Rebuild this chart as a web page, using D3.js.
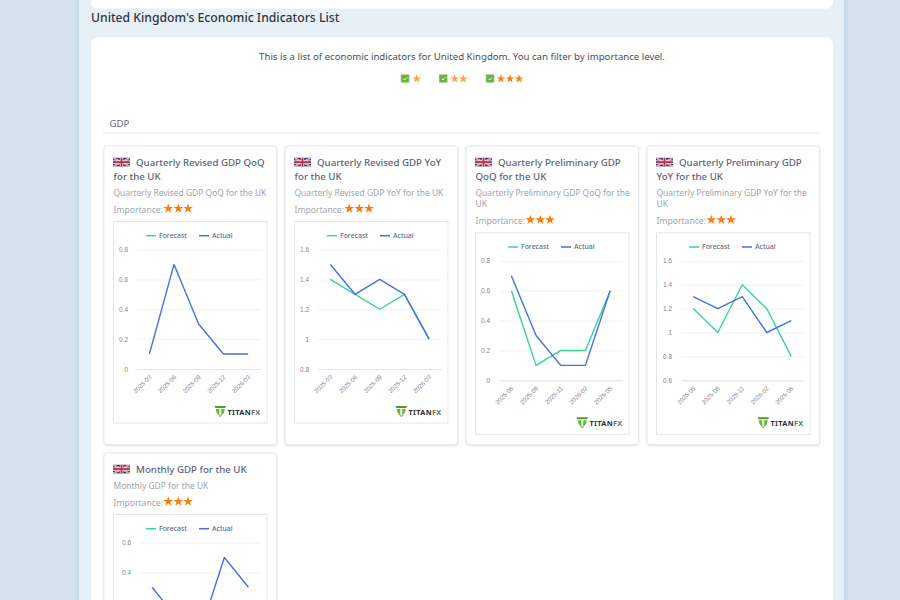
<!DOCTYPE html>
<html lang="en">
<head>
<meta charset="utf-8">
<title>United Kingdom's Economic Indicators List</title>
<script src="https://cdn.jsdelivr.net/npm/d3@7/dist/d3.min.js"></script>
<style>
  html, body { margin: 0; padding: 0; width: 900px; height: 600px; overflow: hidden; background: #d4e3ef; }
  svg { display: block; font-family: "Noto Sans", "Open Sans", sans-serif; }
</style>
</head>
<body>
<div id="page"></div>
<script>
// Release dates per indicator
const revisedQoqDates = ["2025-03", "2025-06", "2025-09", "2025-12", "2026-03"];
const revisedYoyDates = ["2025-03", "2025-06", "2025-09", "2025-12", "2026-03"];
const prelimQoqDates = ["2025-05", "2025-08", "2025-11", "2026-02", "2026-05"];
const prelimYoyDates = ["2025-05", "2025-08", "2025-11", "2026-02", "2026-05"];
const monthlyDates = ["2025-11", "2025-12", "2026-01", "2026-02", "2026-03"];

// Forecast and actual readings, in percent
const revisedQoqForecast = [];
const revisedQoqActual = [0.1, 0.7, 0.3, 0.1, 0.1];
const revisedYoyForecast = [1.4, 1.3, 1.2, 1.3, 1.0];
const revisedYoyActual = [1.5, 1.3, 1.4, 1.3, 1.0];
const prelimQoqForecast = [0.6, 0.1, 0.2, 0.2, 0.6];
const prelimQoqActual = [0.7, 0.3, 0.1, 0.1, 0.6];
const prelimYoyForecast = [1.2, 1.0, 1.4, 1.2, 0.8];
const prelimYoyActual = [1.3, 1.2, 1.3, 1.0, 1.1];
const monthlyForecast = [];
const monthlyActual = [0.3, 0.1, 0.0, 0.5, 0.3];

// Value-axis ranges
const revisedQoqRange = [0, 0.8];
const revisedYoyRange = [0.8, 1.6];
const prelimQoqRange = [0, 0.8];
const prelimYoyRange = [0.6, 1.6];
const monthlyRange = [-0.2, 0.6];

// Card wording
const revisedQoqTitle = ["Quarterly Revised GDP QoQ", "for the UK"];
const revisedYoyTitle = ["Quarterly Revised GDP YoY", "for the UK"];
const prelimQoqTitle = ["Quarterly Preliminary GDP", "QoQ for the UK"];
const prelimYoyTitle = ["Quarterly Preliminary GDP", "YoY for the UK"];
const monthlyTitle = ["Monthly GDP for the UK"];
const revisedQoqNote = ["Quarterly Revised GDP QoQ for the UK"];
const revisedYoyNote = ["Quarterly Revised GDP YoY for the UK"];
const prelimQoqNote = ["Quarterly Preliminary GDP QoQ for the", "UK"];
const prelimYoyNote = ["Quarterly Preliminary GDP YoY for the", "UK"];
const monthlyNote = ["Monthly GDP for the UK"];

const indicators = [
  { x: 103.5, y: 145.5, h: 299.5, axisGap: 24, title: revisedQoqTitle, note: revisedQoqNote, dates: revisedQoqDates, forecast: revisedQoqForecast, actual: revisedQoqActual, range: revisedQoqRange },
  { x: 284.5, y: 145.5, h: 299.5, axisGap: 24, title: revisedYoyTitle, note: revisedYoyNote, dates: revisedYoyDates, forecast: revisedYoyForecast, actual: revisedYoyActual, range: revisedYoyRange },
  { x: 465.5, y: 145.5, h: 299.5, axisGap: 24, title: prelimQoqTitle, note: prelimQoqNote, dates: prelimQoqDates, forecast: prelimQoqForecast, actual: prelimQoqActual, range: prelimQoqRange },
  { x: 646.5, y: 145.5, h: 299.5, axisGap: 25, title: prelimYoyTitle, note: prelimYoyNote, dates: prelimYoyDates, forecast: prelimYoyForecast, actual: prelimYoyActual, range: prelimYoyRange },
  { x: 103.5, y: 452.5, h: 299.5, axisGap: 27, title: monthlyTitle, note: monthlyNote, dates: monthlyDates, forecast: monthlyForecast, actual: monthlyActual, range: monthlyRange }
];

const FORECAST = "#35d6a0", ACTUAL = "#4470e8", STAR = "#ff7a0a", STAR_SOFT = "#ffa033";
const TEXT_DARK = "#2f3542", TITLE = "#5b6479", MUTED = "#a3a6ad";

const svg = d3.select("#page").append("svg").attr("width", 900).attr("height", 600);

const defs = svg.append("defs");
defs.append("filter").attr("id", "panel-shadow").attr("x", "-5%").attr("width", "110%")
  .append("feDropShadow").attr("dx", 0).attr("dy", 0).attr("stdDeviation", 3)
  .attr("flood-color", "#9fbcd8").attr("flood-opacity", 0.55);
defs.append("filter").attr("id", "card-shadow").attr("x", "-5%").attr("y", "-5%").attr("width", "110%").attr("height", "110%")
  .append("feDropShadow").attr("dx", 0).attr("dy", 1).attr("stdDeviation", 1)
  .attr("flood-color", "#8a94a6").attr("flood-opacity", 0.3);

// Page panels
svg.append("rect").attr("x", 79).attr("y", -10).attr("width", 765).attr("height", 630)
  .attr("fill", "#e8f0f7").attr("filter", "url(#panel-shadow)");
svg.append("rect").attr("x", 91).attr("y", -20).attr("width", 742).attr("height", 28.5).attr("rx", 6).attr("fill", "#fff");
svg.append("rect").attr("x", 91).attr("y", 37.5).attr("width", 742).attr("height", 600).attr("rx", 6).attr("fill", "#fff");

svg.append("text").attr("x", 91).attr("y", 21.5)
  .attr("font-size", 12.2).attr("font-weight", 500).attr("fill", TEXT_DARK)
  .text("United Kingdom's Economic Indicators List");
svg.append("text").attr("x", 462).attr("y", 60).attr("text-anchor", "middle")
  .attr("font-size", 9.64).attr("fill", "#4a4f5a")
  .text("This is a list of economic indicators for United Kingdom. You can filter by importance level.");

const starPath = r => d3.symbol().type(d3.symbolStar).size(r * r * 0.95)();

function stars(parent, centres, y, r, colour) {
  parent.selectAll(null).data(centres).join("path")
    .attr("d", starPath(r))
    .attr("transform", c => `translate(${c},${y})`)
    .attr("fill", colour);
}

// Importance filter
const filters = [
  { box: 400.8, centres: [416.7], colour: STAR_SOFT },
  { box: 439, centres: [454.7, 463.3], colour: STAR_SOFT },
  { box: 485.8, centres: [501, 510, 519], colour: STAR }
];
filters.forEach(f => {
  svg.append("rect").attr("x", f.box).attr("y", 74.3).attr("width", 8.5).attr("height", 8.5)
    .attr("rx", 1).attr("fill", "#6cb33f").attr("stroke", "#e3e8e0").attr("stroke-width", 0.6);
  svg.append("path")
    .attr("d", `M${f.box + 2.6},78.8 l1.2,1.2 l2.2,-2.4`)
    .attr("fill", "none").attr("stroke", "#fff").attr("stroke-width", 0.9);
  stars(svg, f.centres, 78.8, 5, f.colour);
});

// Section heading
svg.append("text").attr("x", 109.5).attr("y", 127).attr("font-size", 9.6).attr("fill", "#666b75").text("GDP");
svg.append("line").attr("x1", 103).attr("x2", 820).attr("y1", 133).attr("y2", 133)
  .attr("stroke", "#e6e8ec").attr("stroke-width", 1);

function unionFlag(g, x, y) {
  const w = 17, h = 8.6;
  const f = g.append("g").attr("transform", `translate(${x},${y})`);
  f.append("rect").attr("width", w).attr("height", h).attr("fill", "#2b3a75");
  [[0, 0, w, h], [0, h, w, 0]].forEach(([a, b, c, d]) => {
    f.append("line").attr("x1", a).attr("y1", b).attr("x2", c).attr("y2", d).attr("stroke", "#f2eef0").attr("stroke-width", 1.7);
    f.append("line").attr("x1", a).attr("y1", b).attr("x2", c).attr("y2", d).attr("stroke", "#c8324a").attr("stroke-width", 0.6);
  });
  f.append("rect").attr("x", w / 2 - 1.7).attr("width", 3.4).attr("height", h).attr("fill", "#f2eef0");
  f.append("rect").attr("y", h / 2 - 1.7).attr("width", w).attr("height", 3.4).attr("fill", "#f2eef0");
  f.append("rect").attr("x", w / 2 - 1).attr("width", 2).attr("height", h).attr("fill", "#c8324a");
  f.append("rect").attr("y", h / 2 - 1).attr("width", w).attr("height", 2).attr("fill", "#c8324a");
}

function brandMark(g, right, y) {
  const m = g.append("g").attr("transform", `translate(${right - 46},${y})`);
  m.append("path").attr("d", "M0,0 H11.5 L10.6,2 H0.9 Z").attr("fill", "#4e9a2a");
  m.append("path").attr("d", "M1.2,3 H10.3 L9.4,6.8 L5.75,11.2 L2.1,6.8 Z").attr("fill", "#6cb33f");
  m.append("path").attr("d", "M4.6,3 H6.9 V8.6 L5.75,10 L4.6,8.6 Z").attr("fill", "#fff").attr("opacity", 0.75);
  const label = m.append("text").attr("x", 13).attr("y", 8.6).attr("font-size", 7.3).attr("font-weight", 700)
    .attr("letter-spacing", 0.35).attr("fill", "#2e3238");
  label.append("tspan").text("TITAN");
  label.append("tspan").attr("fill", "#6a6e74").text("FX");
}

function drawCard(spec) {
  const w = 173.5;
  const card = svg.append("g").attr("transform", `translate(${spec.x},${spec.y})`);
  card.append("rect").attr("x", 0.5).attr("y", 0.5).attr("width", w - 1).attr("height", spec.h - 1).attr("rx", 3)
    .attr("fill", "#fff").attr("stroke", "#e6e8ec").attr("filter", "url(#card-shadow)");

  unionFlag(card, 9.5, 12.3);

  // Heading: first line sits right of the flag
  let cursor = 20;
  spec.title.forEach((line, i) => {
    card.append("text").attr("x", i === 0 ? 32.5 : 10).attr("y", cursor + i * 14)
      .attr("font-size", 9.7).attr("font-weight", 500).attr("fill", TITLE).text(line);
  });
  cursor += (spec.title.length - 1) * 14 + 16;
  spec.note.forEach((line, i) => {
    card.append("text").attr("x", 10).attr("y", cursor + i * 11.3)
      .attr("font-size", 8.45).attr("fill", MUTED).text(line);
  });
  cursor += (spec.note.length - 1) * 11.3 + 17;
  card.append("text").attr("x", 10).attr("y", cursor)
    .attr("font-size", 8.6).attr("fill", MUTED).text("Importance:");
  stars(card, [64.8, 74.8, 84.5], cursor - 4, 5.6, STAR);

  // Chart frame
  const frameX = 9.5, frameY = cursor + 8.5, frameW = 154.5, frameH = 202.5;
  const chart = card.append("g").attr("transform", `translate(${frameX},${frameY})`);
  chart.append("rect").attr("x", 0.5).attr("y", 0.5).attr("width", frameW - 1).attr("height", frameH - 1)
    .attr("fill", "#fff").attr("stroke", "#e4e6ea");

  const x = d3.scalePoint().domain(spec.dates).range([spec.axisGap, frameW - 7]).padding(0.5);
  const y = d3.scaleLinear().domain(spec.range).range([148, 28.5]);
  const ticks = d3.range(spec.range[0], spec.range[1] + 0.001, 0.2).map(v => +v.toFixed(1));

  // Value axis with full-width grid lines
  const yAxis = chart.append("g").attr("transform", `translate(${spec.axisGap},0)`)
    .call(d3.axisLeft(y).tickValues(ticks).tickSize(-(frameW - 7 - spec.axisGap)).tickPadding(9).tickFormat(d3.format("~g")));
  yAxis.select(".domain").remove();
  yAxis.selectAll("line").attr("stroke", "#f0f1f3");
  yAxis.selectAll("text").attr("font-size", 6.4).attr("fill", "#808590").attr("font-family", "inherit");

  // Date axis with slanted labels
  const xAxis = chart.append("g").attr("transform", "translate(0,148)")
    .call(d3.axisBottom(x).tickSize(0));
  xAxis.select(".domain").attr("stroke", "#dfe6f3");
  xAxis.selectAll("text").attr("font-size", 6.2).attr("fill", "#808590").attr("font-family", "inherit")
    .attr("text-anchor", "end").attr("y", 0).attr("dy", "0.35em")
    .attr("transform", "translate(0.5,7) rotate(-45)");

  const line = d3.line().x((_, i) => x(spec.dates[i])).y(d => y(d));
  [[spec.forecast, FORECAST], [spec.actual, ACTUAL]].forEach(([values, colour]) => {
    if (values.length) {
      chart.append("path").datum(values).attr("d", line)
        .attr("fill", "none").attr("stroke", colour).attr("stroke-width", 1.4).attr("stroke-linejoin", "round");
    }
  });

  // Legend
  const legend = chart.append("g").attr("transform", "translate(33,14.7)");
  [["Forecast", FORECAST, 0, 13], ["Actual", ACTUAL, 53, 66]].forEach(([label, colour, x0, tx]) => {
    legend.append("line").attr("x1", x0).attr("x2", x0 + 10).attr("y1", 0).attr("y2", 0)
      .attr("stroke", colour).attr("stroke-width", 1.5);
    legend.append("text").attr("x", tx).attr("y", 2.4).attr("font-size", 6.9).attr("font-weight", 500)
      .attr("fill", "#646c80").text(label);
  });

  brandMark(chart, frameW - 7, 185);
}

indicators.forEach(drawCard);

// Anything that falls below the fold is not laid out on this page
svg.selectAll("text").filter(function () {
  return this.getBoundingClientRect().bottom > 600;
}).remove();
</script>
</body>
</html>
